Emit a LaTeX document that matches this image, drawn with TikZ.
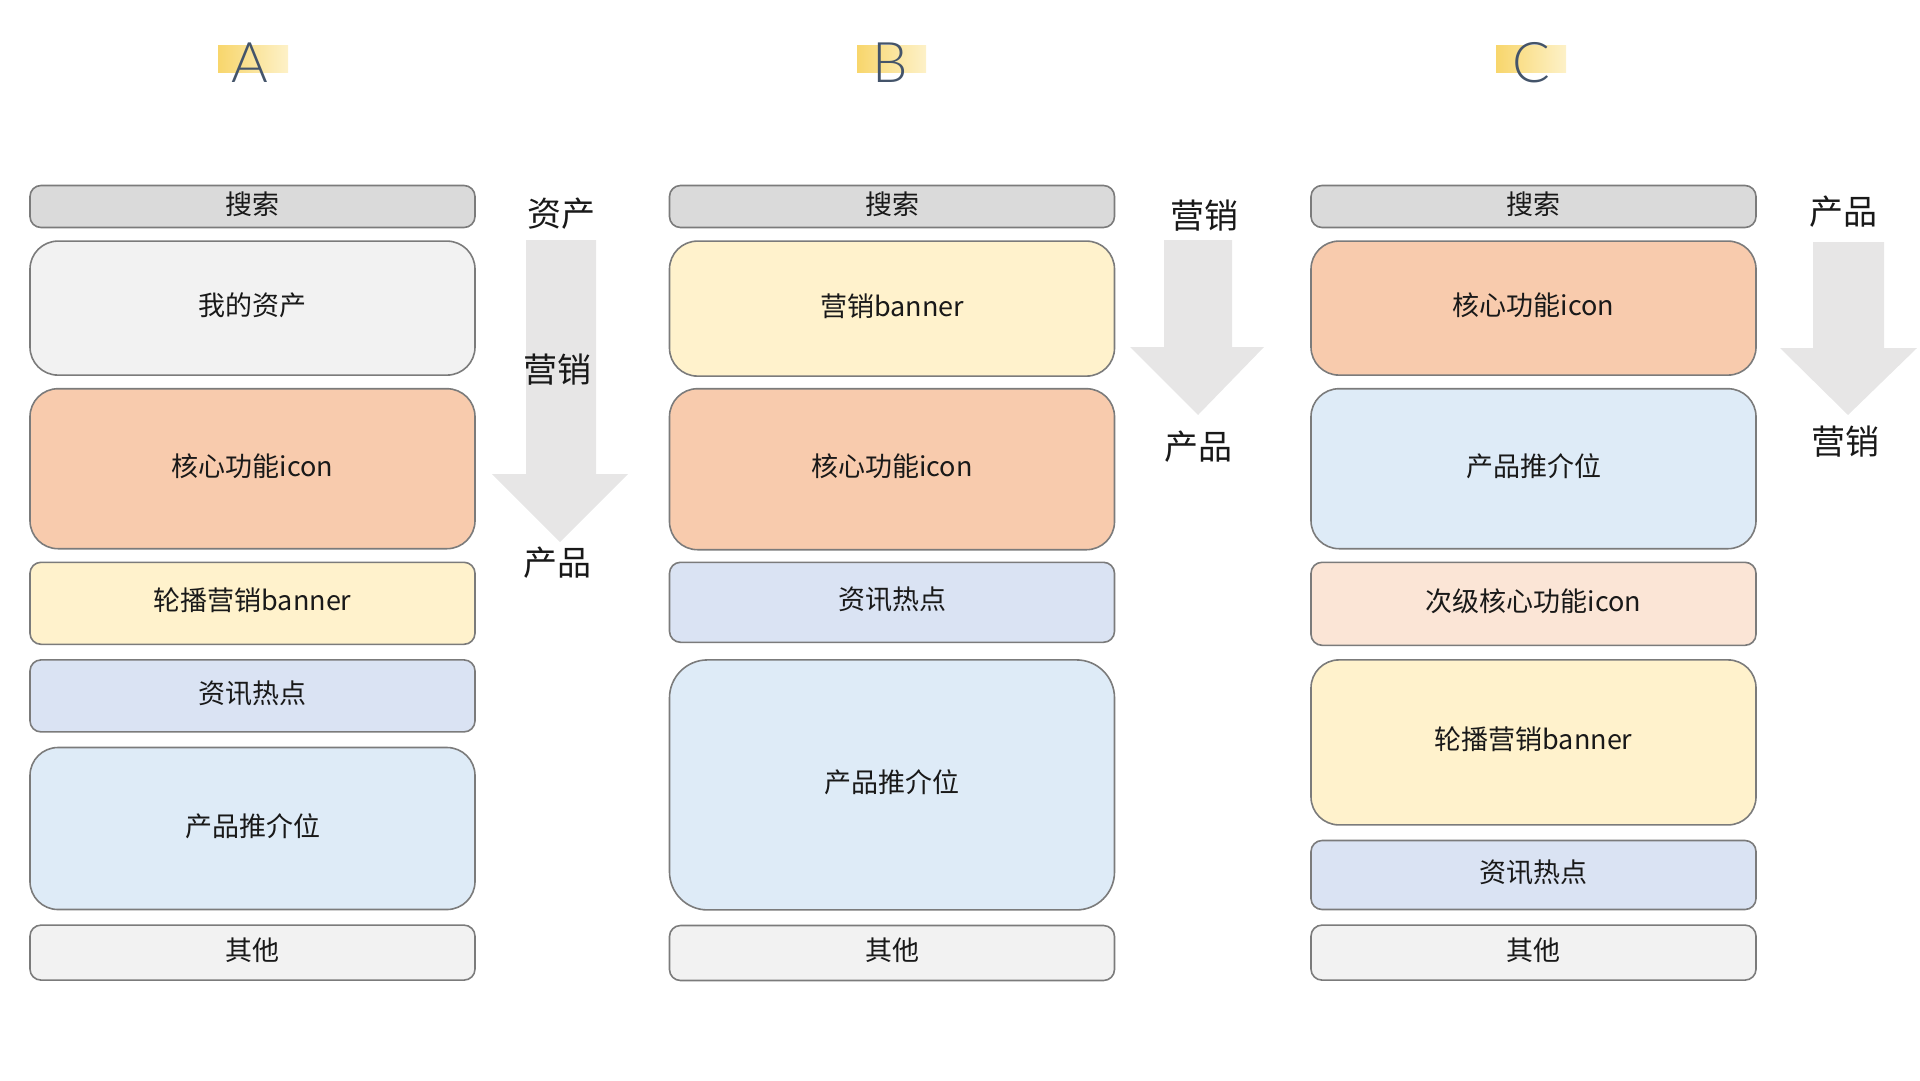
\documentclass[tikz,border=0pt]{standalone}
\usepackage{fontspec}
\setmainfont{Noto Sans CJK SC}
\newfontfamily\ttlfont{Lato Light}
\usepackage{xcolor}
\usepackage{tikz}
\usetikzlibrary{positioning}

\definecolor{lineGray}{HTML}{7B7B7B}
\definecolor{searchGray}{HTML}{DADADA}
\definecolor{lightGray}{HTML}{F2F2F2}
\definecolor{coreOrange}{HTML}{F8CBAD}
\definecolor{subOrange}{HTML}{FBE5D6}
\definecolor{bannerYellow}{HTML}{FFF2CC}
\definecolor{newsBlue}{HTML}{DAE3F3}
\definecolor{prodBlue}{HTML}{DEEBF7}
\definecolor{arrGray}{HTML}{E7E6E6}
\definecolor{titleBlue}{HTML}{44546A}
\definecolor{hlLeft}{HTML}{F8D66C}
\definecolor{hlRight}{HTML}{FDF1C8}

\begin{document}
\begin{tikzpicture}[x=1pt, y=-1pt, node distance=12pt,
    blk/.style={draw=lineGray, line width=1.6pt, minimum width=445pt,
        inner sep=0pt, text height=24pt, text depth=9pt,
        text=black!90, font=\fontsize{27}{30}\selectfont},
    sm/.style={blk, rounded corners=11pt},
    lg/.style={blk, rounded corners=28pt},
    xl/.style={blk, rounded corners=38pt},
    lbl/.style={text=black!90, font=\fontsize{34}{38}\selectfont},
    ttl/.style={anchor=base, text=titleBlue, font=\ttlfont\fontsize{56}{60}\selectfont}]

    \useasboundingbox (0,0) rectangle (1920,1080);

    % titles
    \shade[left color=hlLeft, right color=hlRight] (218,45) rectangle (288,72);
    \shade[left color=hlLeft, right color=hlRight] (857,45) rectangle (926,72);
    \shade[left color=hlLeft, right color=hlRight] (1496,45) rectangle (1566,72);
    \node[ttl] (tA) at (250,82) {A};
    \node[ttl] (tB) at (890,82) {B};
    \node[ttl] (tC) at (1531,82) {C};

    % column A
    \node[sm, fill=searchGray, minimum height=42pt] (a1) at (252.5,206.5) {搜索};
    \node[lg, fill=lightGray, minimum height=134pt, below=12pt of a1] (a2) {我的资产};
    \node[lg, fill=coreOrange, minimum height=160pt, below=12pt of a2] (a3) {核心功能icon};
    \node[sm, fill=bannerYellow, minimum height=82pt, below=12pt of a3] (a4) {轮播营销banner};
    \node[sm, fill=newsBlue, minimum height=72pt, below=14pt of a4] (a5) {资讯热点};
    \node[lg, fill=prodBlue, minimum height=162pt, below=14pt of a5] (a6) {产品推介位};
    \node[sm, fill=lightGray, minimum height=55pt, below=14pt of a6] (a7) {其他};

    % column B
    \node[sm, fill=searchGray, minimum height=42pt] (b1) at (892,206.5) {搜索};
    \node[lg, fill=bannerYellow, minimum height=135pt, below=12pt of b1] (b2) {营销banner};
    \node[lg, fill=coreOrange, minimum height=161pt, below=11pt of b2] (b3) {核心功能icon};
    \node[sm, fill=newsBlue, minimum height=80pt, below=11pt of b3] (b4) {资讯热点};
    \node[xl, fill=prodBlue, minimum height=250pt, below=16pt of b4] (b5) {产品推介位};
    \node[sm, fill=lightGray, minimum height=55pt, below=14pt of b5] (b6) {其他};

    % column C
    \node[sm, fill=searchGray, minimum height=42pt] (c1) at (1533.5,206.5) {搜索};
    \node[lg, fill=coreOrange, minimum height=134pt, below=12pt of c1] (c2) {核心功能icon};
    \node[lg, fill=prodBlue, minimum height=160pt, below=12pt of c2] (c3) {产品推介位};
    \node[sm, fill=subOrange, minimum height=83pt, below=12pt of c3] (c4) {次级核心功能icon};
    \node[lg, fill=bannerYellow, minimum height=165pt, below=13pt of c4] (c5) {轮播营销banner};
    \node[sm, fill=newsBlue, minimum height=69pt, below=14pt of c5] (c6) {资讯热点};
    \node[sm, fill=lightGray, minimum height=55pt, below=14pt of c6] (c7) {其他};

    % order arrows
    \fill[arrGray] (526,240) -- (596,240) -- (596,474) -- (628,474) -- (560,542)
        -- (492,474) -- (526,474) -- cycle;
    \fill[arrGray] (1164,240) -- (1232,240) -- (1232,347) -- (1264,347) -- (1198,415)
        -- (1130,347) -- (1164,347) -- cycle;
    \fill[arrGray] (1813,242) -- (1884,242) -- (1884,348) -- (1917,348) -- (1848,415)
        -- (1780,348) -- (1813,348) -- cycle;

    \node[lbl] (la1) at (561,214) {资产};
    \node[lbl] (la2) at (557,370) {营销};
    \node[lbl] (la3) at (557,563) {产品};
    \node[lbl] (lb1) at (1204,216) {营销};
    \node[lbl] (lb2) at (1198,447) {产品};
    \node[lbl] (lc1) at (1843,212) {产品};
    \node[lbl] (lc2) at (1845,442) {营销};

\end{tikzpicture}
\end{document}
